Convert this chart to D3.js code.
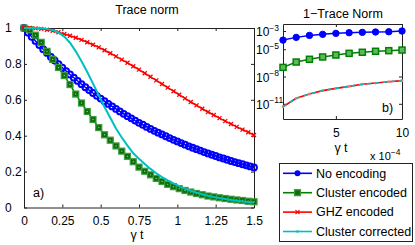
<!DOCTYPE html>
<html><head><meta charset="utf-8">
<script src="https://cdn.jsdelivr.net/npm/d3@7"></script>
<style>
html,body{margin:0;padding:0;background:#fff;}
svg{display:block;font-family:"Liberation Sans",Arial,Helvetica,sans-serif;}
</style></head>
<body><svg id="c" width="415" height="245"></svg>
<script>
// ---------- data: main panel a) ----------
const tFine = [0,0.025,0.05,0.075,0.1,0.125,0.15,0.175,0.2,0.225,0.25,0.275,0.3,0.325,0.35,0.375,0.4,0.425,0.45,0.475,0.5,0.525,0.55,0.575,0.6,0.625,0.65,0.675,0.7,0.725,0.75,0.775,0.8,0.825,0.85,0.875,0.9,0.925,0.95,0.975,1.0,1.025,1.05,1.075,1.1,1.125,1.15,1.175,1.2,1.225,1.25,1.275,1.3,1.325,1.35,1.375,1.4,1.425,1.45,1.475,1.5];
const noEncoding = [1.000,0.975,0.951,0.928,0.905,0.882,0.861,0.839,0.819,0.799,0.779,0.760,0.741,0.723,0.705,0.687,0.670,0.654,0.638,0.622,0.607,0.592,0.577,0.563,0.549,0.535,0.522,0.509,0.497,0.484,0.472,0.461,0.449,0.438,0.427,0.417,0.407,0.397,0.387,0.377,0.368,0.359,0.350,0.341,0.333,0.325,0.317,0.309,0.301,0.294,0.287,0.279,0.273,0.266,0.259,0.253,0.247,0.241,0.235,0.229,0.223];
const tCoarse = [0,0.0375,0.075,0.1125,0.15,0.1875,0.225,0.2625,0.3,0.3375,0.375,0.4125,0.45,0.4875,0.525,0.5625,0.6,0.6375,0.675,0.7125,0.75,0.7875,0.825,0.8625,0.9,0.9375,0.975,1.0125,1.05,1.0875,1.125,1.1625,1.2,1.2375,1.275,1.3125,1.35,1.3875,1.425,1.4625,1.5];
const clusterEncoded = [1.0,0.99,0.96,0.92,0.87,0.825,0.78,0.735,0.685,0.632,0.582,0.535,0.49,0.445,0.405,0.375,0.343,0.314,0.285,0.255,0.225,0.202,0.182,0.162,0.145,0.129,0.116,0.105,0.095,0.086,0.078,0.071,0.064,0.059,0.054,0.05,0.046,0.042,0.039,0.035,0.032];
const ghzEncoded = [1.0,1.0,0.998,0.995,0.99,0.984,0.976,0.967,0.957,0.946,0.934,0.921,0.907,0.892,0.876,0.859,0.842,0.824,0.806,0.787,0.768,0.748,0.728,0.708,0.688,0.668,0.648,0.628,0.608,0.588,0.569,0.55,0.532,0.515,0.498,0.481,0.465,0.449,0.434,0.419,0.404];
const clusterCorrected = [1.0,1.0,1.0,0.998,0.995,0.988,0.975,0.952,0.918,0.87,0.815,0.755,0.69,0.625,0.56,0.5,0.44,0.39,0.345,0.302,0.272,0.242,0.215,0.191,0.169,0.151,0.134,0.119,0.105,0.093,0.083,0.074,0.066,0.059,0.053,0.047,0.042,0.038,0.034,0.031,0.028];
const xTicksA = [0,0.25,0.5,0.75,1,1.25,1.5];
const xTickLabelsA = ["0","0.25","0.5","0.75","1","1.25","1.5"];
const yTicksA = [0,0.2,0.4,0.6,0.8,1];
const yTickLabelsA = ["0","0.2","0.4","0.6","0.8","1"];

// ---------- data: inset b) (x in units of 1e-4) ----------
const tInset = [1,2,3,4,5,6,7,8,9,10];
const insetNoEncoding = [1.0e-4,2.0e-4,3.3e-4,4.3e-4,5.5e-4,6.5e-4,7.1e-4,7.8e-4,8.3e-4,1.0e-3];
const insetClusterEncoded = [1.0e-7,3.9e-7,7.8e-7,1.4e-6,2.3e-6,3.5e-6,4.6e-6,5.9e-6,6.9e-6,8.1e-6];
const insetGHZ = [4.8e-12,4.0e-11,1.2e-10,2.8e-10,5.0e-10,8.3e-10,1.4e-9,1.9e-9,2.7e-9,3.5e-9];
const insetCorrected = [4.8e-12,4.0e-11,1.2e-10,2.8e-10,5.0e-10,8.3e-10,1.4e-9,1.9e-9,2.7e-9,3.5e-9];
const xTicksB = [5,10];
const yTicksB = [1e-11,1e-8,1e-5,1e-3];
const yTickExpB = ["−11","−8","−5","−3"];

const seriesNames = ["No encoding","Cluster encoded","GHZ encoded","Cluster corrected"];
const colors = ["#0000ff","#008000","#ff0000","#00bfbf"];

// ---------- drawing ----------
const svg = d3.select("#c");
const AX = "#222";
const SQFILL = "#0b6e0b", SQEDGE = "#3c9c3c";

function styleAxis(g){
  g.selectAll(".domain").attr("stroke",AX).attr("stroke-width",1);
  g.selectAll(".tick line").attr("stroke",AX).attr("stroke-width",1);
  g.selectAll("text").attr("fill","#000").attr("font-size",12).attr("font-family","'Liberation Sans',Arial,sans-serif");
}

// main panel
const x = d3.scaleLinear().domain([0,1.5]).range([24,254]);
const y = d3.scaleLinear().domain([0,1]).range([207.5,28]);

svg.append("g").attr("transform","translate(0,207.5)")
  .call(d3.axisBottom(x).tickValues(xTicksA).tickFormat((d,i)=>xTickLabelsA[i]).tickSize(-3).tickSizeOuter(0).tickPadding(9))
  .call(styleAxis);
svg.append("g").attr("transform","translate(0,28)")
  .call(d3.axisTop(x).tickValues(xTicksA).tickFormat("").tickSize(-3).tickSizeOuter(0))
  .call(styleAxis);
const gl = svg.append("g").attr("transform","translate(24,0)")
  .call(d3.axisLeft(y).tickValues(yTicksA).tickFormat((d,i)=>yTickLabelsA[i]).tickSize(-3).tickSizeOuter(0))
  .call(styleAxis);
gl.selectAll("text").attr("text-anchor","start").attr("x",-19);
svg.append("g").attr("transform","translate(254,0)")
  .call(d3.axisRight(y).tickValues(yTicksA).tickFormat("").tickSize(-3).tickSizeOuter(0))
  .call(styleAxis);

const line = (xs) => d3.line().x((d,i)=>x(xs[i])).y(d=>y(d));

// blue
svg.append("path").datum(noEncoding).attr("d",line(tFine)).attr("fill","none").attr("stroke",colors[0]).attr("stroke-width",1.5);
svg.append("g").selectAll("circle").data(noEncoding).join("circle")
  .attr("cx",(d,i)=>x(tFine[i])).attr("cy",d=>y(d)).attr("r",2.9)
  .attr("fill","none").attr("stroke",colors[0]).attr("stroke-width",2);
// green
svg.append("path").datum(clusterEncoded).attr("d",line(tCoarse)).attr("fill","none").attr("stroke",colors[1]).attr("stroke-width",1.5);
svg.append("g").selectAll("rect").data(clusterEncoded).join("rect")
  .attr("x",(d,i)=>x(tCoarse[i])-3).attr("y",d=>y(d)-3).attr("width",6).attr("height",6)
  .attr("fill",SQFILL).attr("stroke",SQEDGE).attr("stroke-width",1.2);
svg.append("g").selectAll("circle").data(clusterEncoded).join("circle")
  .attr("cx",(d,i)=>x(tCoarse[i])).attr("cy",d=>y(d)).attr("r",0.7).attr("fill","#8fd08f");
// red
svg.append("path").datum(ghzEncoded).attr("d",line(tCoarse)).attr("fill","none").attr("stroke",colors[2]).attr("stroke-width",1.6);
svg.append("g").selectAll("path").data(ghzEncoded).join("path")
  .attr("d",(d,i)=>{const cx=x(tCoarse[i]),cy=y(d),s=2;return `M${cx-s},${cy-s}L${cx+s},${cy+s}M${cx-s},${cy+s}L${cx+s},${cy-s}`;})
  .attr("stroke",colors[2]).attr("stroke-width",1.3);
// cyan
svg.append("path").datum(clusterCorrected).attr("d",line(tCoarse)).attr("fill","none").attr("stroke",colors[3]).attr("stroke-width",2);

// labels main
svg.append("text").attr("x",147).attr("y",13.5).attr("text-anchor","middle").attr("font-size",12.5).text("Trace norm");
svg.append("text").attr("x",137).attr("y",239).attr("text-anchor","middle").attr("font-size",12.5).text("γ t");
svg.append("text").attr("x",33).attr("y",197).attr("font-size",12.5).text("a)");

// inset
const xi = d3.scaleLinear().domain([1,10]).range([283,402]);
const yi = d3.scaleLog().domain([Math.pow(10,-12.67),Math.pow(10,-2.23)]).range([119,24]);

svg.append("rect").attr("x",283).attr("y",24).attr("width",119).attr("height",95).attr("fill","#fff");
svg.append("g").attr("transform","translate(0,119)")
  .call(d3.axisBottom(xi).tickValues(xTicksB).tickFormat(d3.format("d")).tickSize(-3).tickSizeOuter(0).tickPadding(9.5))
  .call(styleAxis);
svg.append("g").attr("transform","translate(0,24)")
  .call(d3.axisTop(xi).tickValues(xTicksB).tickFormat("").tickSize(-3).tickSizeOuter(0))
  .call(styleAxis);
svg.append("g").attr("transform","translate(283,0)")
  .call(d3.axisLeft(yi).tickValues(yTicksB).tickFormat("").tickSize(-3).tickSizeOuter(0))
  .call(styleAxis);
svg.append("g").attr("transform","translate(402,0)")
  .call(d3.axisRight(yi).tickValues(yTicksB).tickFormat("").tickSize(-3).tickSizeOuter(0))
  .call(styleAxis);
// log tick labels
const yl = svg.append("g");
yTicksB.forEach((v,i)=>{
  const t = yl.append("text").attr("x",256).attr("y",yi(v)+5).attr("font-size",12);
  t.append("tspan").text("10");
  t.append("tspan").attr("dy",-5.5).attr("font-size",8.5).text(yTickExpB[i]);
});

const lineI = d3.line().x((d,i)=>xi(tInset[i])).y(d=>yi(d));
svg.append("path").datum(insetNoEncoding).attr("d",lineI).attr("fill","none").attr("stroke",colors[0]).attr("stroke-width",1.5);
svg.append("g").selectAll("circle").data(insetNoEncoding).join("circle")
  .attr("cx",(d,i)=>xi(tInset[i])).attr("cy",d=>yi(d)).attr("r",3.2).attr("fill",colors[0]).attr("stroke",colors[0]);
svg.append("path").datum(insetClusterEncoded).attr("d",lineI).attr("fill","none").attr("stroke",colors[1]).attr("stroke-width",1.5);
svg.append("g").selectAll("rect").data(insetClusterEncoded).join("rect")
  .attr("x",(d,i)=>xi(tInset[i])-3).attr("y",d=>yi(d)-3).attr("width",6).attr("height",6)
  .attr("fill","#5fb85f").attr("stroke",colors[1]).attr("stroke-width",1.5);
svg.append("path").datum(insetGHZ).attr("d",lineI).attr("fill","none").attr("stroke",colors[2]).attr("stroke-width",1.6);
svg.append("g").selectAll("circle").data(insetGHZ).join("circle")
  .attr("cx",(d,i)=>xi(tInset[i])).attr("cy",d=>yi(d)).attr("r",1.4).attr("fill","#f08080");
svg.append("path").datum(insetCorrected).attr("d",lineI).attr("fill","none").attr("stroke",colors[3]).attr("stroke-width",1.6).attr("stroke-dasharray","4,4");

svg.append("text").attr("x",343).attr("y",17.5).attr("text-anchor","middle").attr("font-size",12.5).text("1−Trace Norm");
svg.append("text").attr("x",341).attr("y",152).attr("text-anchor","middle").attr("font-size",12.5).text("γ t");
svg.append("text").attr("x",382).attr("y",112).attr("font-size",12.5).text("b)");
const xm = svg.append("text").attr("x",370).attr("y",160).attr("font-size",11);
xm.append("tspan").text("x 10");
xm.append("tspan").attr("dy",-5.5).attr("font-size",8.5).text("−4");

// legend
const lg = svg.append("g");
lg.append("rect").attr("x",279.5).attr("y",163.5).attr("width",133).attr("height",78).attr("fill","#fff").attr("stroke","#222").attr("stroke-width",1);
seriesNames.forEach((name,i)=>{
  const cy = 173.3 + i*19.4;
  lg.append("line").attr("x1",283).attr("x2",312).attr("y1",cy).attr("y2",cy).attr("stroke",colors[i]).attr("stroke-width",1.6);
  if(i===0) lg.append("circle").attr("cx",297.5).attr("cy",cy).attr("r",3).attr("fill",colors[0]);
  if(i===1) lg.append("rect").attr("x",294.5).attr("y",cy-3).attr("width",6).attr("height",6).attr("fill",SQFILL).attr("stroke",SQEDGE).attr("stroke-width",1.2);
  if(i===2) lg.append("path").attr("d",`M${295.5},${cy-2}L${299.5},${cy+2}M${295.5},${cy+2}L${299.5},${cy-2}`).attr("stroke",colors[2]).attr("stroke-width",1.2);
  if(i===3) lg.append("circle").attr("cx",297.5).attr("cy",cy).attr("r",1.3).attr("fill",colors[3]);
  lg.append("text").attr("x",316).attr("y",cy+4.3).attr("font-size",12.5).text(name);
});
</script></body></html>
